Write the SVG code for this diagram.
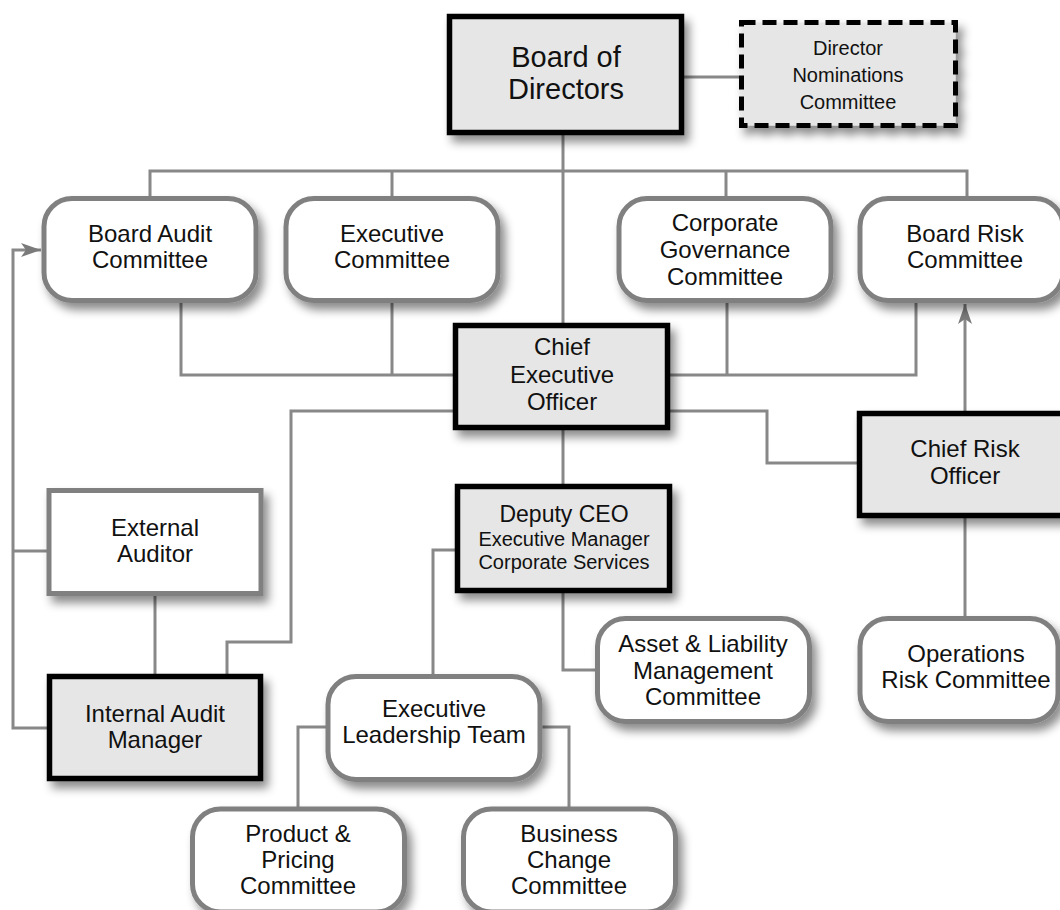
<svg xmlns="http://www.w3.org/2000/svg" width="1060" height="910" viewBox="0 0 1060 910">
<defs>
<filter id="sh" x="-20%" y="-20%" width="150%" height="160%">
<feDropShadow dx="5" dy="7" stdDeviation="5" flood-color="#000" flood-opacity="0.45"/>
</filter>
<marker id="arr" viewBox="0 0 20 14" refX="20" refY="7" markerWidth="20" markerHeight="14" markerUnits="userSpaceOnUse" orient="auto">
<path d="M0,0 L20,7 L0,14 L5,7 z" fill="#7a7a7a"/>
</marker>
</defs>
<style>
text{font-family:"Liberation Sans",Arial,sans-serif;font-size:24px;fill:#111;text-anchor:middle}
.big{font-size:29px}
.sm{font-size:20px}
.dp{font-size:23px}
.exec rect{fill:#e6e6e6;stroke:#000;stroke-width:5.5}
.comm rect{fill:#fff;stroke:#808080;stroke-width:5}
.plain rect{fill:#fff;stroke:#808080;stroke-width:5}
.dash rect{fill:#e6e6e6;stroke:#000;stroke-width:5;stroke-dasharray:14 7}
.node rect{filter:url(#sh)}
#connectors path{fill:none;stroke:#888;stroke-width:3}
</style>
<rect width="1060" height="910" fill="#fff"/>
<g id="connectors">
<path d="M563,135 V325"/>
<path d="M684,77 H739"/>
<path d="M150,196 V171 H967 V196"/>
<path d="M392,171 V196"/>
<path d="M726,171 V196"/>
<path d="M181,303 V375 H455"/>
<path d="M392,303 V375"/>
<path d="M668,375 H916 V303"/>
<path d="M727,303 V375"/>
<path d="M455,411 H291 V642 H227 V674"/>
<path d="M668,411 H767 V463 H857"/>
<path d="M563,430 V484"/>
<path d="M965,411 V304" marker-end="url(#arr)"/>
<path d="M965,518 V616"/>
<path d="M155,596 V674"/>
<path d="M47,728 H13 V250 H41" marker-end="url(#arr)"/>
<path d="M47,551 H13"/>
<path d="M455,550 H433 V674"/>
<path d="M563,593 V670 H595"/>
<path d="M326,727 H298 V807"/>
<path d="M542,727 H569 V807"/>
</g>
<g id="board" class="node exec">
<rect x="449.5" y="16.5" width="232" height="116"/>
<text class="big" x="566" y="67">Board of</text>
<text class="big" x="566" y="99">Directors</text>
</g>
<g id="nominations" class="node dash">
<rect x="741.5" y="22.5" width="214" height="103"/>
<text class="sm" x="848" y="55">Director</text>
<text class="sm" x="848" y="82">Nominations</text>
<text class="sm" x="848" y="109">Committee</text>
</g>
<g id="board-audit" class="node comm">
<rect x="44" y="198.5" width="212" height="102" rx="28"/>
<text x="150" y="242">Board Audit</text>
<text x="150" y="268">Committee</text>
</g>
<g id="executive-committee" class="node comm">
<rect x="286" y="198.5" width="212" height="102" rx="28"/>
<text x="392" y="242">Executive</text>
<text x="392" y="268">Committee</text>
</g>
<g id="corporate-governance" class="node comm">
<rect x="619" y="198.5" width="212" height="102" rx="28"/>
<text x="725" y="231">Corporate</text>
<text x="725" y="258">Governance</text>
<text x="725" y="285">Committee</text>
</g>
<g id="board-risk" class="node comm">
<rect x="860" y="198.5" width="203" height="102" rx="28"/>
<text x="965" y="242">Board Risk</text>
<text x="965" y="268">Committee</text>
</g>
<g id="ceo" class="node exec">
<rect x="455.5" y="325.5" width="212" height="102"/>
<text x="562" y="355">Chief</text>
<text x="562" y="383">Executive</text>
<text x="562" y="410">Officer</text>
</g>
<g id="cro" class="node exec">
<rect x="859.5" y="413.5" width="212" height="102"/>
<text x="965" y="457">Chief Risk</text>
<text x="965" y="484">Officer</text>
</g>
<g id="external-auditor" class="node plain">
<rect x="49" y="490.5" width="212" height="103"/>
<text x="155" y="536">External</text>
<text x="155" y="562">Auditor</text>
</g>
<g id="internal-audit" class="node exec">
<rect x="49.5" y="676.5" width="211" height="102"/>
<text x="155" y="722">Internal Audit</text>
<text x="155" y="748">Manager</text>
</g>
<g id="deputy-ceo" class="node exec">
<rect x="457.5" y="486.5" width="212" height="104"/>
<text class="dp" x="564" y="522">Deputy CEO</text>
<text class="sm" x="564" y="546">Executive Manager</text>
<text class="sm" x="564" y="569">Corporate Services</text>
</g>
<g id="alm" class="node comm">
<rect x="597.5" y="618.5" width="212" height="103" rx="28"/>
<text x="703" y="652">Asset &amp; Liability</text>
<text x="703" y="679">Management</text>
<text x="703" y="705">Committee</text>
</g>
<g id="operations-risk" class="node comm">
<rect x="860" y="618.5" width="198" height="103" rx="28"/>
<text x="966" y="662">Operations</text>
<text x="966" y="688">Risk Committee</text>
</g>
<g id="elt" class="node comm">
<rect x="328" y="676.5" width="212" height="103" rx="28"/>
<text x="434" y="717">Executive</text>
<text x="434" y="743">Leadership Team</text>
</g>
<g id="product-pricing" class="node comm">
<rect x="192.5" y="809" width="212" height="103" rx="28"/>
<text x="298" y="842">Product &amp;</text>
<text x="298" y="868">Pricing</text>
<text x="298" y="894">Committee</text>
</g>
<g id="business-change" class="node comm">
<rect x="463.5" y="809" width="212" height="103" rx="28"/>
<text x="569" y="842">Business</text>
<text x="569" y="868">Change</text>
<text x="569" y="894">Committee</text>
</g>
</svg>
